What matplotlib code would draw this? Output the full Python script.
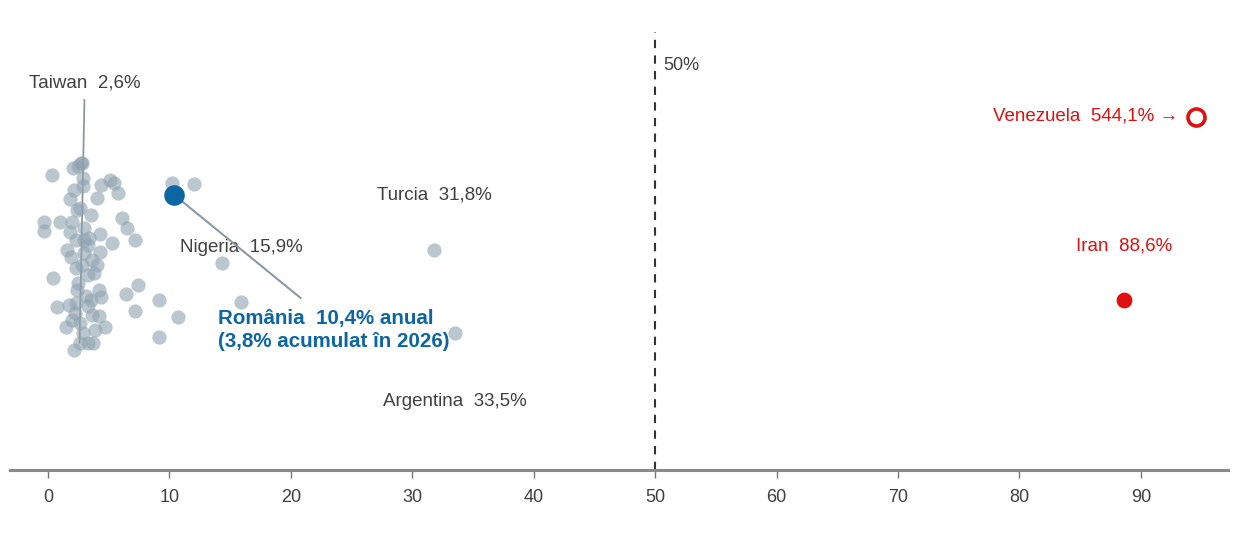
import matplotlib
matplotlib.use("Agg")
import matplotlib.pyplot as plt

plt.rcParams['font.family'] = ['Liberation Sans', 'DejaVu Sans']

# ---- data: annual inflation (%) and vertical jitter position ----
other_x = [0.3, -0.3, -0.3, 1.0, 0.4, 0.7, 1.5, 1.7, 1.6, 1.8, 1.8, 2.07, 2.5, 2.8,
           2.1, 2.0, 2.3, 2.3, 2.4, 2.0, 2.9, 2.9, 2.6, 3.0, 3.0, 3.3, 3.5, 3.6,
           3.7, 4.0, 4.4, 5.1, 5.4, 5.8, 4.3, 4.0, 4.3, 4.2, 4.4, 4.2, 4.7, 5.3,
           6.1, 6.5, 7.2, 7.4, 6.4, 7.2, 9.1, 9.1, 10.7, 10.2, 12.0, 14.3,
           3.0, 3.3, 3.6, 2.8, 2.5, 3.1, 3.3, 2.6, 3.9, 3.3, 2.9, 2.3, 2.2,
           2.4, 3.5, 2.7, 1.9, 3.8, 2.1, 3.4]
other_y = [295, 248, 239, 248, 192, 163, 143, 165, 220, 238, 271, 302, 304, 307,
           280, 248, 230, 202, 180, 150, 292, 284, 262, 242, 217, 195, 170, 155,
           127, 272, 285, 290, 287, 277, 236, 205, 218, 180, 173, 154, 143, 227,
           252, 242, 230, 185, 176, 159, 170, 133, 153, 287, 286, 207,
           230, 225, 210, 205, 187, 174, 164, 147, 140, 127, 137, 167, 157,
           260, 255, 307, 213, 197, 120, 232]

taiwan = (2.6, 127)
romania = (10.4, 275)
nigeria = (15.9, 168)
turcia = (31.8, 220)
argentina = (33.5, 137)
iran = (88.6, 170)
venezuela_value = 544.1
venezuela_y = 353
axis_cap = 94.5  # off-scale values are drawn at this x, with an arrow

xticks = [0, 10, 20, 30, 40, 50, 60, 70, 80, 90]
threshold = 50

# ---- figure ----
fig = plt.figure(figsize=(12.5, 5.41), dpi=100)
ax = fig.add_axes([10/1250, 71/541, 1218/1250, 470/541])
ax.set_xlim(-3.13, 97.17)
ax.set_ylim(0, 470)

grey = '#8fa2b0'
txt = '#404040'

# leader lines
ax.plot([taiwan[0] + 0.4, taiwan[0]], [370, taiwan[1]], color='#8c99a3', lw=1.3, zorder=1)
ax.plot([romania[0], 20.8], [romania[1], 172], color='#8c99a3', lw=1.5, zorder=4)

# points
ax.scatter(other_x, other_y, s=105, color=grey, alpha=0.6, linewidths=0, zorder=2)
for p in (taiwan, nigeria, turcia, argentina):
    ax.scatter([p[0]], [p[1]], s=105, color=grey, alpha=0.6, linewidths=0, zorder=2)
ax.scatter([romania[0]], [romania[1]], s=220, color='#0b66a3', linewidths=0, zorder=5)
ax.scatter([iran[0]], [iran[1]], s=130, color='#e01010', linewidths=0, zorder=5)
ax.scatter([min(venezuela_value, axis_cap)], [venezuela_y], s=150, facecolors='white',
           edgecolors='#e01010', linewidths=2.6, zorder=5)

# threshold line
ax.plot([threshold, threshold], [0, 438], color='#333333', lw=1.5, ls=(0, (4, 3.5)), zorder=1)
ax.text(threshold + 0.7, 405, '50%', fontsize=13, color=txt, va='center', ha='left')

# labels
fs = 13.5
ax.text(3.05, 387, 'Taiwan  2,6%', fontsize=fs, color=txt, ha='center', va='center')
ax.text(nigeria[0], 222, 'Nigeria  15,9%', fontsize=fs, color=txt, ha='center', va='center')
ax.text(turcia[0], 275, 'Turcia  31,8%', fontsize=fs, color=txt, ha='center', va='center')
ax.text(argentina[0], 69, 'Argentina  33,5%', fontsize=fs, color=txt, ha='center', va='center')
ax.text(iran[0], 224, 'Iran  88,6%', fontsize=fs, color='#e01010', ha='center', va='center')
ax.text(axis_cap - 1.45, 354, 'Venezuela  544,1% \u2192', fontsize=fs, color='#e01010',
        ha='right', va='center')
ax.text(14.0, 140, 'România  10,4% anual\n(3,8% acumulat în 2026)', fontsize=14.8,
        color='#0b66a3', fontweight='bold', ha='left', va='center', linespacing=1.3)

# axes styling
for s in ('top', 'right', 'left'):
    ax.spines[s].set_visible(False)
ax.spines['bottom'].set_color('#8a8a8a')
ax.spines['bottom'].set_linewidth(2.2)
ax.set_yticks([])
ax.set_xticks(xticks)
ax.set_xticklabels([str(t) for t in xticks], fontsize=13, color=txt)
ax.tick_params(axis='x', length=6, width=1, color='#777777', pad=8)

fig.savefig('out.png', dpi=100, facecolor='white')
